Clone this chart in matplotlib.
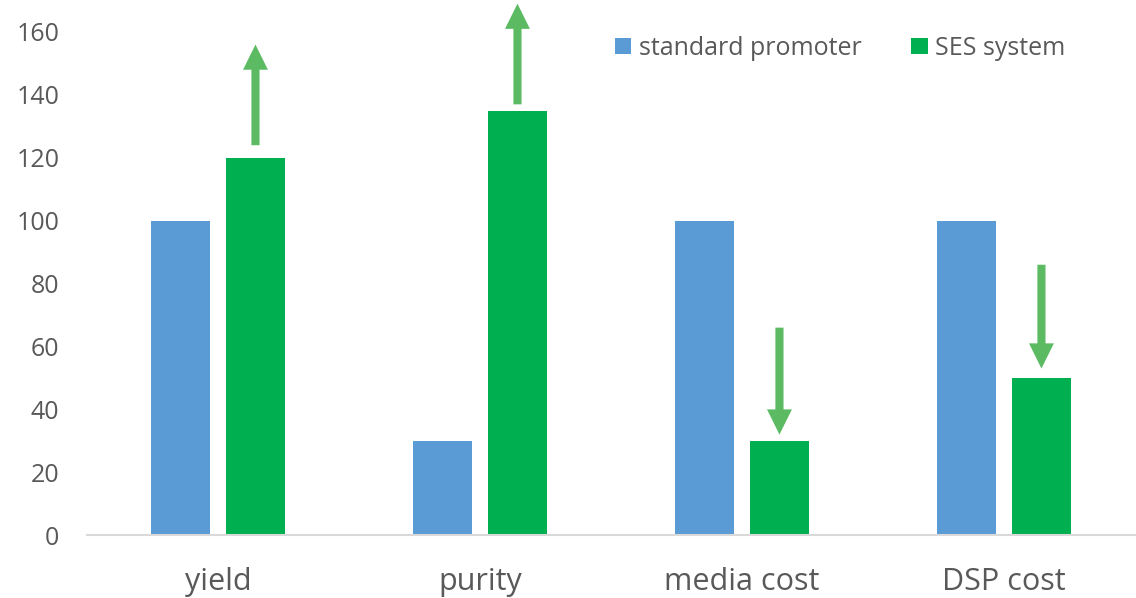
import numpy as np
import matplotlib.pyplot as plt

categories = ["yield", "purity", "media cost", "DSP cost"]
standard = [100, 30, 100, 100]
ses = [120, 135, 30, 50]
# arrows above the SES bars: (start, tip) in data units
arrow_start = [124, 137, 66, 86]
arrow_tip = [156, 169, 32, 53]

BLUE = "#5B9BD5"
GREEN = "#00B050"
ARROW = "#5CBB62"
TEXT = "#595959"

plt.rcParams["font.family"] = ["Open Sans", "DejaVu Sans"]

fig = plt.figure(figsize=(11.36, 5.98), dpi=100)
ax = fig.add_axes([0.0766, 0.105, 0.9225, 0.8415])

x = np.arange(len(categories))
w = 0.225
off = 0.143
ax.bar(x - off, standard, w, color=BLUE, label="standard promoter")
ax.bar(x + off, ses, w, color=GREEN, label="SES system")

for xi, s, t in zip(x + off, arrow_start, arrow_tip):
    ax.arrow(xi, s, 0, t - s, width=0.031, head_width=0.095, head_length=8,
             length_includes_head=True, color=ARROW, lw=0, clip_on=False)

ax.set_xlim(-0.5, len(categories) - 0.5)
ax.set_ylim(0, 160)
ax.set_yticks(range(0, 161, 20))
ax.set_xticks(x)
ax.set_xticklabels(categories, fontsize=22, color=TEXT)
ax.tick_params(axis="y", length=0, labelsize=18, labelcolor=TEXT, pad=20)
ax.tick_params(axis="x", length=0, pad=23)

for side in ["top", "right", "left"]:
    ax.spines[side].set_visible(False)
ax.spines["bottom"].set_color("#D9D9D9")
ax.spines["bottom"].set_linewidth(1.5)

leg = ax.legend(ncol=2, frameon=False, loc="upper right", bbox_to_anchor=(0.955, 1.037),
                fontsize=18, handlelength=0.65, handleheight=0.65, handletextpad=0.3,
                columnspacing=2.0)
for t in leg.get_texts():
    t.set_color(TEXT)

fig.savefig("out.png", dpi=100)
